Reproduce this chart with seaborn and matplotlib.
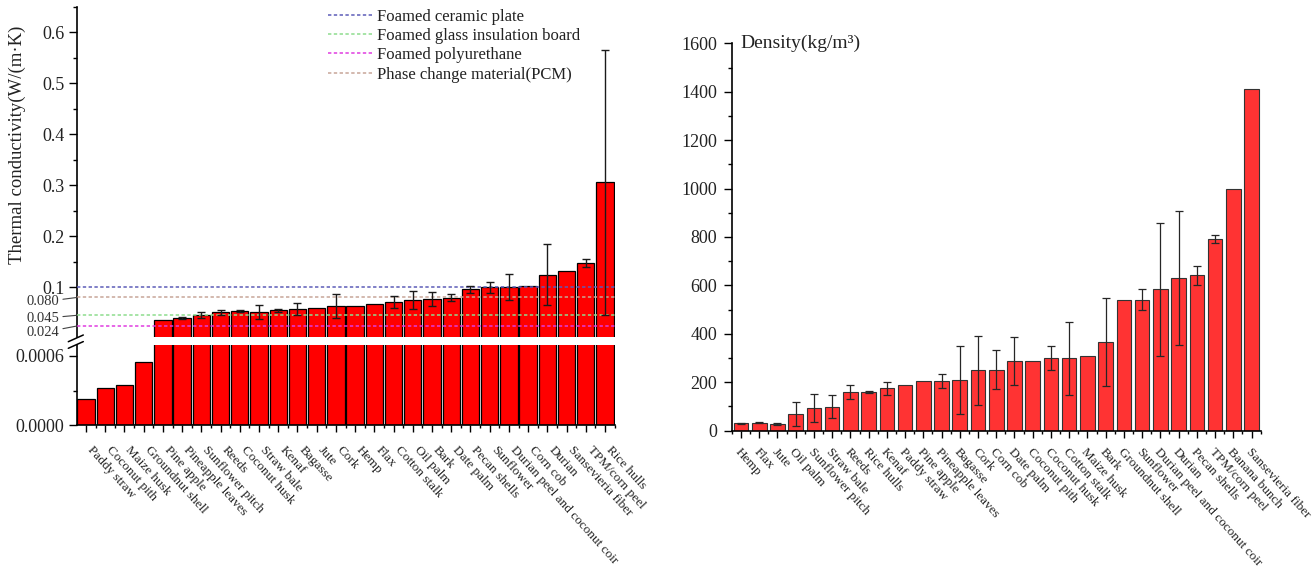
import numpy as np
import matplotlib
matplotlib.use("Agg")
import matplotlib.pyplot as plt
import seaborn as sns
from matplotlib.ticker import FixedLocator, MultipleLocator
from matplotlib.lines import Line2D

# ---- Thermal conductivity, W/(m·K) ----
materials_k = [
    "Paddy straw", "Coconut pith", "Maize husk", "Groundnut shell", "Pine apple",
    "Pineapple leaves", "Sunflower pitch", "Reeds", "Coconut husk", "Straw bale",
    "Kenaf", "Bagasse", "Jute", "Cork", "Hemp", "Flax", "Cotton stalk", "Oil palm",
    "Bark", "Date palm", "Pecan shells", "Sunflower", "Durian peel and coconut coir",
    "Corn cob", "Durian", "Sansevieria fiber", "TPM/corn peel", "Rice hulls",
]
conductivity = [
    0.00023, 0.00032, 0.00035, 0.00055, 0.036,
    0.039, 0.0455, 0.0508, 0.0534, 0.052,
    0.0553, 0.0573, 0.0587, 0.063, 0.063, 0.0665, 0.0716, 0.075,
    0.077, 0.0795, 0.096, 0.100, 0.101,
    0.103, 0.1246, 0.132, 0.1476, 0.306,
]
conductivity_err = [
    0, 0, 0, 0, 0,
    0.002, 0.005, 0.005, 0.002, 0.014,
    0.003, 0.011, 0, 0.023, 0, 0, 0.012, 0.018,
    0.014, 0.007, 0.007, 0.011, 0.025,
    0, 0.060, 0, 0.0075, 0.260,
]

# ---- Density, kg/m3 ----
materials_rho = [
    "Hemp", "Flax", "Jute", "Oil palm", "Sunflower pitch", "Straw bale", "Reeds",
    "Rice hulls", "Kenaf", "Paddy straw", "Pine apple", "Pineapple leaves", "Bagasse",
    "Cork", "Corn cob", "Date palm", "Coconut pith", "Coconut husk", "Cotton stalk",
    "Maize husk", "Bark", "Groundnut shell", "Sunflower", "Durian peel and coconut coir",
    "Durian", "Pecan shells", "TPM/corn peel", "Banana bunch", "Sansevieria fiber",
]
density = [
    29, 32, 26, 68, 93, 99, 160,
    160, 174, 188, 204, 204, 210,
    249, 251, 286, 288, 298, 298,
    308, 366, 538, 541, 583,
    630, 641, 790, 1000, 1410,
]
density_err = [
    3, 3, 3, 50, 58, 49, 28,
    5, 27, 0, 0, 28, 140,
    143, 80, 100, 0, 50, 151,
    0, 182, 0, 42, 274,
    277, 40, 16, 0, 0,
]

# ---- Conventional insulation materials (reference levels) ----
ref_names = ["Foamed ceramic plate", "Foamed glass insulation board",
             "Foamed polyurethane", "Phase change material(PCM)"]
ref_values = [0.1, 0.045, 0.024, 0.080]
ref_colors = ["#5C5CB8", "#8EDD8E", "#E03CE0", "#C8A698"]

sns.set_style("ticks")
plt.rcParams["font.family"] = ["Liberation Serif", "DejaVu Serif"]
plt.rcParams.update({
    "axes.edgecolor": "black",
    "axes.linewidth": 1.2,
    "xtick.color": "black",
    "ytick.color": "black",
    "xtick.labelcolor": "#222222",
    "ytick.labelcolor": "#222222",
    "xtick.direction": "out",
    "ytick.direction": "out",
})

W, H = 1314, 571
fig = plt.figure(figsize=(W / 100, H / 100), dpi=100)

def frac(x0, y0, x1, y1):
    """Axes rectangle from pixel box (left, top, right, bottom)."""
    return [x0 / W, 1 - y1 / H, (x1 - x0) / W, (y1 - y0) / H]

ax_hi = fig.add_axes(frac(77, 7, 615, 336.7))
ax_lo = fig.add_axes(frac(77, 344.5, 615, 425))
ax_d = fig.add_axes(frac(731.7, 43.3, 1261, 430.5))

n_k = len(materials_k)
n_d = len(materials_rho)
pos_k = np.arange(n_k)
pos_d = np.arange(n_d)


def bars(ax, cats, vals, color, edge, lw, width):
    sns.barplot(x=cats, y=vals, ax=ax, color=color, edgecolor=edge,
                linewidth=lw, width=width, saturation=1, errorbar=None, zorder=2)


def errbars(ax, pos, vals, errs, color, cap, lw):
    vals = np.asarray(vals, float)
    errs = np.asarray(errs, float)
    m = errs > 0
    ax.errorbar(pos[m], vals[m], yerr=errs[m], fmt="none", ecolor=color,
                elinewidth=lw, capsize=cap, capthick=lw, zorder=4)


# ---- left panel: broken-axis conductivity ----
for ax in (ax_hi, ax_lo):
    bars(ax, materials_k, conductivity, "#FF0000", "black", 0.9, 0.9)
    ax.set_xlim(-0.47, 27.52)
    ax.set_xlabel("")
    ax.set_ylabel("")

errbars(ax_hi, pos_k, conductivity, conductivity_err, "#1a1a1a", 3.2, 1.0)

for v, c, name in zip(ref_values, ref_colors, ref_names):
    ax_hi.axhline(v, color=c, lw=1.1, ls=(0, (2.2, 1.6)), label=name, zorder=3)

ax_hi.set_ylim(0.003, 0.65)
hi_major = [0.1, 0.2, 0.3, 0.4, 0.5, 0.6]
ax_hi.yaxis.set_major_locator(FixedLocator(hi_major))
ax_hi.set_yticklabels([f"{v:g}" for v in hi_major])
ax_hi.yaxis.set_minor_locator(FixedLocator([0.15, 0.25, 0.35, 0.45, 0.55, 0.65]))
ax_hi.tick_params(axis="x", bottom=False, labelbottom=False)
ax_hi.tick_params(axis="y", which="major", length=6, width=1, pad=3, labelsize=13)
ax_hi.tick_params(axis="y", which="minor", length=3, width=1)
sns.despine(ax=ax_hi, bottom=True)

ax_hi.set_ylabel("Thermal conductivity(W/(m·K)", fontsize=13.5, color="#222222")
ax_hi.yaxis.set_label_coords(-0.095, 0.581)

# small value tags with leader lines for the reference levels
tag_offsets = {0.080: -3.1, 0.045: -2.2, 0.024: -4.6}
for v in sorted(tag_offsets):
    ax_hi.annotate(f"{v:.3f}", xy=(0, v), xycoords=("axes fraction", "data"),
                   xytext=(-12.5, tag_offsets[v]), textcoords="offset points",
                   ha="right", va="center", fontsize=10.5, color="#333333",
                   annotation_clip=False,
                   arrowprops=dict(arrowstyle="-", color="#444444", lw=0.8,
                                   shrinkA=0, shrinkB=0))

leg = ax_hi.legend(loc="upper left", bbox_to_anchor=(0.467, 0.995),
                   frameon=False, fontsize=12, handlelength=2.6,
                   handletextpad=0.35, labelspacing=0.2, borderpad=0,
                   borderaxespad=0)
for t in leg.get_texts():
    t.set_color("#222222")

ax_lo.set_ylim(0, 0.0007)
ax_lo.yaxis.set_major_locator(FixedLocator([0, 0.0006]))
ax_lo.set_yticklabels(["0.0000", "0.0006"])
ax_lo.yaxis.set_minor_locator(FixedLocator([0.0003]))
ax_lo.set_xticks(pos_k)
ax_lo.set_xticklabels([])
ax_lo.xaxis.set_minor_locator(FixedLocator(np.arange(-0.5, n_k, 1.0)))
ax_lo.tick_params(axis="y", which="major", length=6, width=1, pad=3, labelsize=13)
ax_lo.tick_params(axis="y", which="minor", length=3, width=1)
ax_lo.tick_params(axis="x", which="major", length=5, width=1)
ax_lo.tick_params(axis="x", which="minor", length=2.5, width=1)
sns.despine(ax=ax_lo)

for i, name in enumerate(materials_k):
    ax_lo.annotate(name, xy=(i, 0), xycoords=("data", "axes fraction"),
                   xytext=(5.5, -14), textcoords="offset points",
                   rotation=-48, rotation_mode="anchor", ha="left", va="top",
                   fontsize=9.5, color="#222222", annotation_clip=False)

# axis break marks between the two segments
bx = 77
by = (336.7 + 344.5) / 2
for dy in (0.0, 6.6):
    fig.add_artist(Line2D([(bx - 8.7) / W, (bx + 6.3) / W],
                          [1 - (by + 1.1 + dy) / H, 1 - (by - 5.6 + dy) / H],
                          transform=fig.transFigure, color="black", lw=1.1))

# ---- right panel: density ----
bars(ax_d, materials_rho, density, "#FF3333", "#333333", 0.8, 0.8)
errbars(ax_d, pos_d, density, density_err, "#262626", 2.6, 0.9)
ax_d.set_xlabel("")
ax_d.set_ylabel("")
ax_d.set_xlim(-0.51, 28.52)
ax_d.set_ylim(0, 1600)
ax_d.yaxis.set_major_locator(MultipleLocator(200))
ax_d.yaxis.set_minor_locator(MultipleLocator(100))
ax_d.set_xticks(pos_d)
ax_d.set_xticklabels([])
ax_d.xaxis.set_minor_locator(FixedLocator(np.arange(-0.5, n_d, 1.0)))
ax_d.tick_params(axis="y", which="major", length=6, width=1, pad=4.5, labelsize=13)
ax_d.tick_params(axis="y", which="minor", length=3, width=1)
ax_d.tick_params(axis="x", which="major", length=5, width=1)
ax_d.tick_params(axis="x", which="minor", length=2.5, width=1)
sns.despine(ax=ax_d)

ax_d.text(0.016, 1.0, "Density(kg/m³)", transform=ax_d.transAxes,
          ha="left", va="center", fontsize=14, color="#222222")

for i, name in enumerate(materials_rho):
    ax_d.annotate(name, xy=(i, 0), xycoords=("data", "axes fraction"),
                  xytext=(0.5, -11), textcoords="offset points",
                  rotation=-48, rotation_mode="anchor", ha="left", va="top",
                  fontsize=9.5, color="#222222", annotation_clip=False)

fig.savefig("out.png", dpi=100, facecolor="white")
